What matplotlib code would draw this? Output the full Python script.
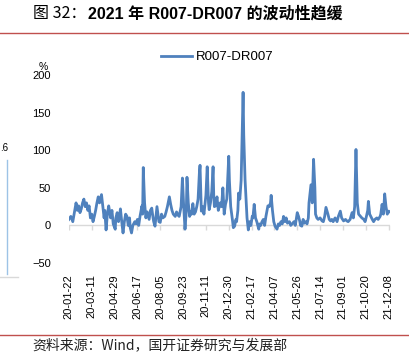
import matplotlib
matplotlib.use("Agg")
import matplotlib.pyplot as plt
from matplotlib.lines import Line2D

plt.rcParams['font.family'] = ['Liberation Sans', 'Noto Sans CJK SC', 'DejaVu Sans']

# 交易日序号（从 20-01-22 起）与 R007-DR007 利差（%，按图读取）
idx = [0, 3, 6, 8, 11, 13, 15, 17, 19, 21, 23, 25, 27, 29, 31, 33, 35, 37, 39, 41,
       43, 45, 47, 50, 52, 54, 55, 57, 59, 61, 64, 66, 68, 71, 72, 74, 76, 78, 79, 81,
       83, 85, 87, 89, 91, 93, 94, 96, 98, 101, 103, 105, 107, 109, 112, 113, 114, 116, 118, 120,
       123, 125, 127, 129, 130, 132, 135, 137, 138, 140, 142, 144, 147, 149, 151, 154, 156, 158, 160, 163,
       165, 167, 169, 172, 174, 176, 178, 180, 181, 183, 185, 187, 188, 190, 192, 194, 196, 198, 200, 201,
       203, 205, 207, 210, 212, 214, 215, 217, 219, 221, 222, 223, 225, 227, 229, 232, 234, 236, 238, 240,
       242, 245, 246, 248, 250, 251, 252, 254, 256, 257, 259, 260, 262, 264, 267, 268, 270, 272, 273, 275,
       277, 279, 281, 282, 284, 286, 288, 291, 292, 294, 296, 298, 300, 302, 305, 307, 309, 310, 312, 314,
       316, 319, 321, 323, 325, 327, 329, 331, 333, 335, 338, 340, 342, 345, 347, 350, 352, 354, 355, 357,
       359, 361, 363, 365, 367, 368, 371, 373, 375, 377, 378, 380, 382, 385, 388, 390, 392, 394, 397, 399,
       401, 403, 405, 408, 411, 413, 416, 418, 421, 424, 426, 428, 431, 434, 436, 438, 440, 442, 444, 447,
       449, 452, 454, 456, 458, 459, 461, 465, 467, 469, 472, 474, 477, 478, 480, 482, 484, 486, 488, 490,
       492]
spread = [8, 12, 5, 15, 30, 20, 26, 17, 22, 30, 35, 25, 30, 20, 26, 10, 15, 5, 12, 20,
          30, 38, 30, 41, 25, 10, 20, -6, 15, 26, 10, 20, 2, -5, 10, 17, 5, 15, 22, 5,
          -10, 5, 15, 12, 0, 10, -3, -10, 0, 5, 2, 8, 0, 12, 26, 15, 77, 30, 10, 18,
          8, 20, 23, 10, 5, -1, 25, 12, 5, 4, 15, 10, 12, 18, 25, 38, 28, 20, 15, 12,
          18, 14, 12, 25, 63, 25, -5, 20, 64, 30, 12, 18, 15, 29, 15, 18, 25, 35, 70, 80,
          19, 25, 15, 40, 78, 30, 21, 30, 45, 78, 40, 25, 26, 38, 20, 30, 25, 50, 15, 28,
          35, 92, 60, 25, 12, 5, -3, -1, 8, 5, 20, 43, 35, 60, 177, 120, 61, 25, 10, -6,
          5, 0, 12, 10, 28, 10, 5, -5, 2, 0, 5, 8, 0, 12, 26, 25, 30, 40, 20, 5,
          -1, -5, 2, 0, 5, 2, 12, 5, 10, 3, 5, 0, 2, 5, 0, 17, 12, 5, 0, -1,
          8, 3, 5, 2, 10, 30, 54, 30, 88, 50, 15, 10, 8, 10, 6, 5, 12, 24, 15, 8,
          6, 8, 5, 10, 5, 12, 19, 10, 6, 8, 6, 5, 8, 17, 10, 25, 101, 30, 15, 12,
          10, 8, 5, 12, 20, 32, 15, 8, 5, 8, 10, 8, 12, 15, 28, 15, 42, 25, 15, 19,
          18]

tick_labels = ['20-01-22', '20-03-11', '20-04-29', '20-06-17', '20-08-05', '20-09-23',
               '20-11-11', '20-12-30', '21-02-17', '21-04-07', '21-05-26', '21-07-14',
               '21-09-01', '21-10-20', '21-12-08']
tick_pos = [i * 35 for i in range(len(tick_labels))]

blue = '#4F81BD'
red = '#C0504D'
grey = '#D9D9D9'

fig = plt.figure(figsize=(4.1, 3.54), dpi=100)
ax = fig.add_axes([0.168, 0.257, 0.783, 0.531])

# 0 轴线和刻度（Excel 风格，刻度朝下）
ax.axhline(0, color=grey, lw=1.0, zorder=1)
ax.plot(tick_pos, [0] * len(tick_pos), ls='none', marker=3, ms=3.5, mew=1.0, color=grey, zorder=1)

ax.plot(idx, spread, color=blue, lw=2.0, solid_joinstyle='round', label='R007-DR007', zorder=2)
ax.set_ylim(-50, 200)
ax.set_xlim(0, 492)
ax.set_yticks([-50, 0, 50, 100, 150, 200])
ax.tick_params(axis='y', length=0, labelsize=8, pad=13)

for s in ['top', 'right', 'left', 'bottom']:
    ax.spines[s].set_visible(False)
ax.set_xticks(tick_pos)
ax.set_xticklabels(tick_labels, rotation=90)
ax.tick_params(axis='x', length=0, labelsize=8, pad=8)

ax.text(-0.065, 1.045, '%', transform=ax.transAxes, fontsize=7.5, ha='right', va='center')

leg_handle = Line2D([], [], color=blue, lw=2.0)
fig.legend([leg_handle], ['R007-DR007'], loc='center', bbox_to_anchor=(0.53, 0.838),
           frameon=False, fontsize=9.5, handlelength=2.4, handletextpad=0.3)

# 标题与来源
fig.text(0.08, 0.962, '图 32：', fontsize=11.5, family=['Noto Sans CJK SC'], va='center')
fig.text(0.215, 0.962, '2021 年 R007-DR007 的波动性趋缓', fontsize=11.5, fontweight='bold',
         family=['Liberation Sans', 'Noto Sans CJK SC'], va='center')
fig.add_artist(Line2D([0, 1], [0.907, 0.907], color=red, lw=1.0, transform=fig.transFigure))
fig.add_artist(Line2D([0, 1], [0.054, 0.054], color=red, lw=1.0, transform=fig.transFigure))
fig.text(0.08, 0.026, '资料来源：Wind，国开证券研究与发展部', fontsize=10,
         family=['Noto Sans CJK SC'], va='center', color='#222222')

# 左侧被裁掉的相邻图表残留
fig.text(0.0, 0.582, '.6', fontsize=7, va='center')
fig.add_artist(Line2D([0.017, 0.017], [0.225, 0.548], color='#9DC3E6', lw=1.0, transform=fig.transFigure))
fig.add_artist(Line2D([0, 0.045], [0.218, 0.218], color=grey, lw=1.0, transform=fig.transFigure))

fig.savefig('out.png', dpi=100)
